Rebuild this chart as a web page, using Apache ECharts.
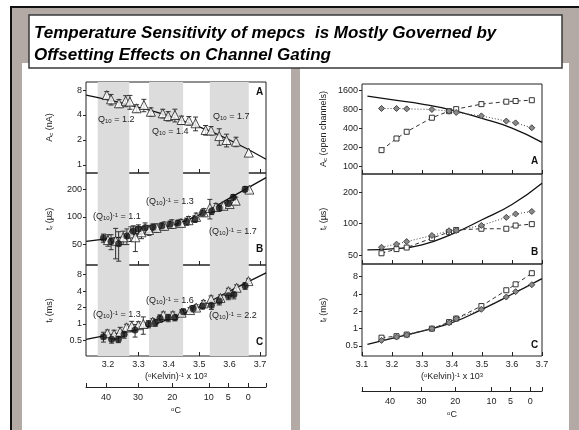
<!DOCTYPE html>
<html>
<head>
<meta charset="utf-8">
<script src="https://cdn.jsdelivr.net/npm/echarts@6/dist/echarts.min.js"></script>
<style>
html,body{margin:0;padding:0;background:#fff}
#main{width:579px;height:430px}
</style>
</head>
<body>
<div id="main"></div>
<script>
// ---- tick labels ----
var kTicksL = [3.2, 3.3, 3.4, 3.5, 3.6, 3.7];
var kTicksR = [3.1, 3.2, 3.3, 3.4, 3.5, 3.6, 3.7];
var celsius = [40, 30, 20, 10, 5, 0];
var ampTicks = [1, 2, 4, 8];
var riseTicks = [50, 100, 200];
var fallTicks = [0.5, 1, 2, 4, 8];
var chanTicks = [100, 200, 400, 800, 1600];

// shaded temperature bands (1/K x 10^3)
var bandLo = [3.166, 3.335, 3.535];
var bandHi = [3.27, 3.447, 3.663];

// ---- left A : amplitude (nA) ----
var ampX = [3.196,3.21,3.236,3.258,3.272,3.294,3.318,3.341,3.38,3.398,3.42,3.442,3.466,3.488,3.521,3.539,3.566,3.59,3.621,3.663];
var ampY = [6.96,6.18,5.53,5.94,5.79,4.82,5.28,4.38,4.19,3.89,4.0,3.48,3.43,3.18,2.64,2.6,2.23,2.0,1.91,1.41];
var ampErr = [0.7,0.9,0.6,0.9,1.1,0.5,0.9,0.5,0.5,0.5,0.7,0.4,0.4,0.6,0.35,0.3,0.5,0.35,0.25,0];
var ampFitX = [3.128, 3.2, 3.3, 3.4, 3.5, 3.6, 3.72];
var ampFitY = [6.96, 6.1, 4.96, 3.89, 2.87, 2.0, 1.17];

// ---- left B : rise time (us) ----
var riseCircX = [3.185,3.21,3.235,3.262,3.283,3.300,3.322,3.348,3.377,3.404,3.43,3.459,3.486,3.511,3.541,3.566,3.596,3.612,3.651];
var riseCircY = [59,54,51,62,70,74,76,77,80,83,86,89,95,110,116,125,140,163,200];
var riseCircErr = [6,10,18,12,10,8,10,7,6,7,6,8,8,9,10,9,10,12,14];
var riseTriX = [3.20,3.225,3.25,3.275,3.29,3.31,3.335,3.36,3.385,3.41,3.44,3.465,3.49,3.515,3.535,3.555,3.58,3.60,3.62,3.665];
var riseTriY = [56,55,60,66,60,68,72,76,80,84,86,92,100,112,125,128,132,138,150,198];
var riseTriErr = [8,20,10,12,18,10,9,8,8,9,8,9,10,11,30,12,12,11,14,16];
var riseFitX = [3.128, 3.2, 3.3, 3.4, 3.5, 3.6, 3.72];
var riseFitY = [54.2, 58.1, 64, 78.8, 105, 160, 267];

// ---- left C : fall time (ms) ----
var fallCircX = [3.185,3.212,3.234,3.253,3.289,3.333,3.355,3.371,3.398,3.42,3.448,3.48,3.511,3.54,3.566,3.596,3.614,3.651];
var fallCircY = [0.587,0.526,0.526,0.65,0.777,1.0,1.06,1.27,1.30,1.32,1.68,1.93,2.13,2.2,2.63,3.28,3.48,5.0];
var fallCircErr = [0.12,0.08,0.07,0.1,0.2,0.15,0.15,0.2,0.2,0.18,0.2,0.25,0.25,0.35,0.4,0.5,0.6,0.7];
var fallTriX = [3.198,3.22,3.24,3.261,3.278,3.30,3.316,3.347,3.382,3.413,3.442,3.47,3.49,3.514,3.539,3.57,3.596,3.623,3.662];
var fallTriY = [0.676,0.65,0.72,0.87,0.92,0.95,1.0,1.1,1.46,1.46,1.61,1.8,2.0,2.38,2.86,3.0,4.0,4.6,6.1];
var fallTriErr = [0.1,0.12,0.15,0.12,0.2,0.15,0.35,0.15,0.2,0.2,0.2,0.2,0.25,0.3,0.4,0.4,0.5,0.6,0.6];
var fallFitX = [3.128, 3.2, 3.3, 3.4, 3.5, 3.6, 3.72];
var fallFitY = [0.526, 0.624, 0.81, 1.23, 2.07, 4.0, 8.6];

// ---- right : model ----
var modelX = [3.165,3.215,3.249,3.333,3.39,3.414,3.498,3.581,3.612,3.666];
var curveX = [3.118, 3.21, 3.3, 3.4, 3.5, 3.6, 3.7];
var chanSq = [179,274,350,584,743,800,960,1049,1074,1107];
var chanDia = [820,820,808,790,743,708,625,517,484,405];
var chanCurve = [1286,1110,960,771,569,400,238];
var mRiseDia = [59.4,63.6,67.3,77,85.5,86,96.3,115,124,131];
var mRiseSq = [52,57,59,72.6,83,87,89.4,89.4,96,99];
var mRiseCurve = [56,57.5,62.5,79.4,109,153,245];
var mFallDia = [0.626,0.715,0.774,1.0,1.27,1.49,2.17,3.55,4.4,5.8];
var mFallSq = [0.697,0.74,0.79,1.0,1.3,1.5,2.47,4.65,5.9,9.2];
var mFallCurve = [0.533,0.697,0.908,1.27,2.17,3.96,7.4];

function zip(xs, ys) { return xs.map(function (x, i) { return [x, ys[i]]; }); }
function zip3(xs, ys, es) { return xs.map(function (x, i) { return [x, ys[i], es[i]]; }); }

var FONT = '"Liberation Sans", Arial, sans-serif';
var INK = '#222';
var LX = [3.1276, 3.7197];
var toC = function (v) { return Math.round(1000 / v - 273.15); };
var celsiusPos = celsius.map(function (c) { return 1000 / (c + 273.15); });

var rich = {
  n: {fontSize: 9, color: INK, fontFamily: FONT},
  s: {fontSize: 6, color: INK, fontFamily: FONT, verticalAlign: 'bottom'},
  p: {fontSize: 6, color: INK, fontFamily: FONT, verticalAlign: 'top'}
};

var plotGrid = {show: true, borderColor: INK, borderWidth: 1, backgroundColor: 'transparent'};
var grids = [
  {left: 86, top: 82, width: 180, height: 91},
  {left: 86, top: 173, width: 180, height: 92},
  {left: 86, top: 265, width: 180, height: 91},
  {left: 86, top: 386, width: 180, height: 1},
  {left: 362, top: 84, width: 180, height: 90},
  {left: 362, top: 174, width: 180, height: 90},
  {left: 362, top: 264, width: 180, height: 92},
  {left: 362, top: 390, width: 180, height: 1}
].map(function (g, i) {
  return (i === 3 || i === 7) ? g : Object.assign({}, plotGrid, g);
});

function kAxis(g, range, ticks, labels) {
  var ax = {
    type: 'value', gridIndex: g, min: range[0], max: range[1],
    axisLine: {show: false}, splitLine: {show: false},
    axisTick: {inside: true, length: 4, customValues: ticks, lineStyle: {color: INK}},
    axisLabel: {show: labels, customValues: ticks, margin: 4, fontSize: 9,
      color: INK, fontFamily: FONT, formatter: function (v) { return v.toFixed(1); }}
  };
  if (labels) {
    ax.name = '{n|(}{p|o}{n|Kelvin)}{p|-1}{n| x 10}{p|3}';
    ax.nameLocation = 'middle';
    ax.nameGap = 16;
    ax.nameTextStyle = {rich: rich};
  }
  return ax;
}
function cAxis(g, range) {
  return {
    type: 'value', gridIndex: g, min: range[0], max: range[1],
    axisLine: {show: true, lineStyle: {color: INK}}, splitLine: {show: false},
    axisTick: {inside: true, length: 4, customValues: [range[0]].concat(celsiusPos, [range[1]]), lineStyle: {color: INK}},
    axisLabel: {customValues: celsiusPos, margin: 6, fontSize: 9, color: INK, fontFamily: FONT, formatter: toC},
    name: '{p|o}{n|C}', nameLocation: 'middle', nameGap: 19, nameTextStyle: {rich: rich}
  };
}
function yLog(g, lo, hi, ticks, name, gap) {
  return {
    type: 'log', logBase: 2, gridIndex: g, min: lo, max: hi,
    axisLine: {show: false}, splitLine: {show: false},
    axisTick: {customValues: ticks, length: 3, lineStyle: {color: INK}},
    axisLabel: {customValues: ticks, margin: 4, fontSize: 9, color: INK, fontFamily: FONT,
      formatter: function (v) { return String(+v.toPrecision(4)); }},
    name: name, nameLocation: 'middle', nameGap: gap, nameTextStyle: {rich: rich}
  };
}

var xAxes = [
  kAxis(0, LX, kTicksL, false), kAxis(1, LX, kTicksL, false), kAxis(2, LX, kTicksL, true),
  cAxis(3, LX),
  kAxis(4, [3.1, 3.7], kTicksR, false), kAxis(5, [3.1, 3.7], kTicksR, false),
  kAxis(6, [3.1, 3.7], kTicksR, true),
  cAxis(7, [3.1, 3.7])
];
var yAxes = [
  yLog(0, 0.8, 10, ampTicks, '{n|A}{s|c}{n| (nA)}', 32),
  yLog(1, 30, 300, riseTicks, '{n|t}{s|r}{n| (µs)}', 32),
  yLog(2, 0.26, 12, fallTicks, '{n|t}{s|f}{n| (ms)}', 32),
  {type: 'value', gridIndex: 3, show: false},
  yLog(4, 75, 2000, chanTicks, '{n|A}{s|c}{n| (open channels)}', 34),
  yLog(5, 41, 300, riseTicks, '{n|t}{s|r}{n| (µs)}', 34),
  yLog(6, 0.335, 13.3, fallTicks, '{n|t}{s|f}{n| (ms)}', 34),
  {type: 'value', gridIndex: 7, show: false}
];

function errRender(params, api) {
  var x = api.value(0), y = api.value(1), e = api.value(2);
  if (!e) return null;
  var hi = api.coord([x, y + e]), lo = api.coord([x, y - e]);
  var w = 2.5, st = {stroke: '#333', lineWidth: 1};
  return {type: 'group', children: [
    {type: 'line', shape: {x1: hi[0], y1: hi[1], x2: lo[0], y2: lo[1]}, style: st},
    {type: 'line', shape: {x1: hi[0] - w, y1: hi[1], x2: hi[0] + w, y2: hi[1]}, style: st},
    {type: 'line', shape: {x1: lo[0] - w, y1: lo[1], x2: lo[0] + w, y2: lo[1]}, style: st}
  ]};
}
function errS(i, data) {
  return {type: 'custom', xAxisIndex: i, yAxisIndex: i, data: data, renderItem: errRender, z: 3, silent: true};
}
function triS(i, data) {
  return {type: 'scatter', xAxisIndex: i, yAxisIndex: i, data: data, symbol: 'triangle', symbolSize: 9, z: 4,
    itemStyle: {color: '#fff', borderColor: INK, borderWidth: 1}};
}
function dotS(i, data) {
  return {type: 'scatter', xAxisIndex: i, yAxisIndex: i, data: data, symbol: 'circle', symbolSize: 7, z: 5,
    itemStyle: {color: '#111'}};
}
function fitS(i, data, smooth) {
  return {type: 'line', xAxisIndex: i, yAxisIndex: i, data: data, smooth: smooth, showSymbol: false, z: 2,
    lineStyle: {color: '#111', width: 1.3}};
}
function bandS(i) {
  return {type: 'line', xAxisIndex: i, yAxisIndex: i, data: [], z: -1, silent: true,
    markArea: {silent: true, itemStyle: {color: '#dcdcdc'},
      data: bandLo.map(function (lo, k) { return [{xAxis: lo}, {xAxis: bandHi[k]}]; })}};
}
function sqS(i, ys) {
  return {type: 'line', xAxisIndex: i, yAxisIndex: i, data: zip(modelX, ys), symbol: 'rect', symbolSize: 5, z: 4,
    lineStyle: {color: '#333', width: 1, type: [4, 3]}, itemStyle: {color: '#fff', borderColor: '#333', borderWidth: 1}};
}
function diaS(i, ys) {
  return {type: 'line', xAxisIndex: i, yAxisIndex: i, data: zip(modelX, ys), symbol: 'diamond', symbolSize: 6, z: 4,
    lineStyle: {color: '#444', width: 1, type: [1, 2]}, itemStyle: {color: '#8a8a8a', borderColor: '#444', borderWidth: 1}};
}

var series = [
  bandS(0), bandS(1), bandS(2),
  fitS(0, zip(ampFitX, ampFitY), true),
  errS(0, zip3(ampX, ampY, ampErr)), triS(0, zip(ampX, ampY)),
  fitS(1, zip(riseFitX, riseFitY), true),
  errS(1, zip3(riseTriX, riseTriY, riseTriErr)), errS(1, zip3(riseCircX, riseCircY, riseCircErr)),
  triS(1, zip(riseTriX, riseTriY)), dotS(1, zip(riseCircX, riseCircY)),
  fitS(2, zip(fallFitX, fallFitY), true),
  errS(2, zip3(fallTriX, fallTriY, fallTriErr)), errS(2, zip3(fallCircX, fallCircY, fallCircErr)),
  triS(2, zip(fallTriX, fallTriY)), dotS(2, zip(fallCircX, fallCircY)),
  fitS(4, zip(curveX, chanCurve), true), sqS(4, chanSq), diaS(4, chanDia),
  fitS(5, zip(curveX, mRiseCurve), true), sqS(5, mRiseSq), diaS(5, mRiseDia),
  fitS(6, zip(curveX, mFallCurve), true), sqS(6, mFallSq), diaS(6, mFallDia)
];

function txt(x, y, text) {
  return {type: 'text', x: x, y: y, z: 100,
    style: {text: text, rich: rich, fill: INK, font: '9px ' + FONT, verticalAlign: 'middle'}};
}
function letter(x, y, t) {
  return {type: 'text', x: x, y: y, z: 100,
    style: {text: t, fill: '#111', font: 'bold 10px ' + FONT, verticalAlign: 'middle'}};
}
var q = '{n|Q}{s|10}{n| = }';
var qi = '{n|(Q}{s|10}{n|)}{p|-1}{n| = }';

var graphic = [
  {type: 'rect', z: -10, shape: {x: 0, y: 0, width: 579, height: 430}, style: {fill: '#fff'}},
  {type: 'rect', z: -9, shape: {x: 10, y: 6, width: 569, height: 424}, style: {fill: '#111'}},
  {type: 'rect', z: -8, shape: {x: 12, y: 8, width: 567, height: 422}, style: {fill: '#b3aaa6'}},
  {type: 'rect', z: -7, shape: {x: 22, y: 63, width: 269, height: 367}, style: {fill: '#fff'}},
  {type: 'rect', z: -7, shape: {x: 300, y: 63, width: 269, height: 367}, style: {fill: '#fff'}},
  {type: 'rect', z: -6, shape: {x: 29, y: 15, width: 533, height: 53}, style: {fill: '#fff', stroke: '#3a3a3a', lineWidth: 1.5}},
  {type: 'text', z: 100, x: 34, y: 33, style: {text: 'Temperature Sensitivity of mepcs  is Mostly Governed by',
    font: 'italic bold 17px ' + FONT, fill: '#000', verticalAlign: 'middle'}},
  {type: 'text', z: 100, x: 34, y: 55, style: {text: 'Offsetting Effects on Channel Gating',
    font: 'italic bold 17px ' + FONT, fill: '#000', verticalAlign: 'middle'}},
  txt(98, 120, q + '{n|1.2}'), txt(152, 132, q + '{n|1.4}'), txt(213, 117, q + '{n|1.7}'),
  txt(93, 217, qi + '{n|1.1}'), txt(146, 202, qi + '{n|1.3}'), txt(209, 232, qi + '{n|1.7}'),
  txt(146, 301, qi + '{n|1.6}'), txt(93, 315, qi + '{n|1.3}'), txt(209, 316, qi + '{n|2.2}'),
  letter(256, 92, 'A'), letter(256, 249, 'B'), letter(256, 342, 'C'),
  letter(531, 161, 'A'), letter(531, 252, 'B'), letter(531, 345, 'C')
];

var chart = echarts.init(document.getElementById('main'), null, {renderer: 'canvas'});
chart.setOption({
  animation: false,
  backgroundColor: '#fff',
  textStyle: {fontFamily: FONT},
  graphic: graphic,
  grid: grids,
  xAxis: xAxes,
  yAxis: yAxes,
  series: series
});
</script>
</body>
</html>
